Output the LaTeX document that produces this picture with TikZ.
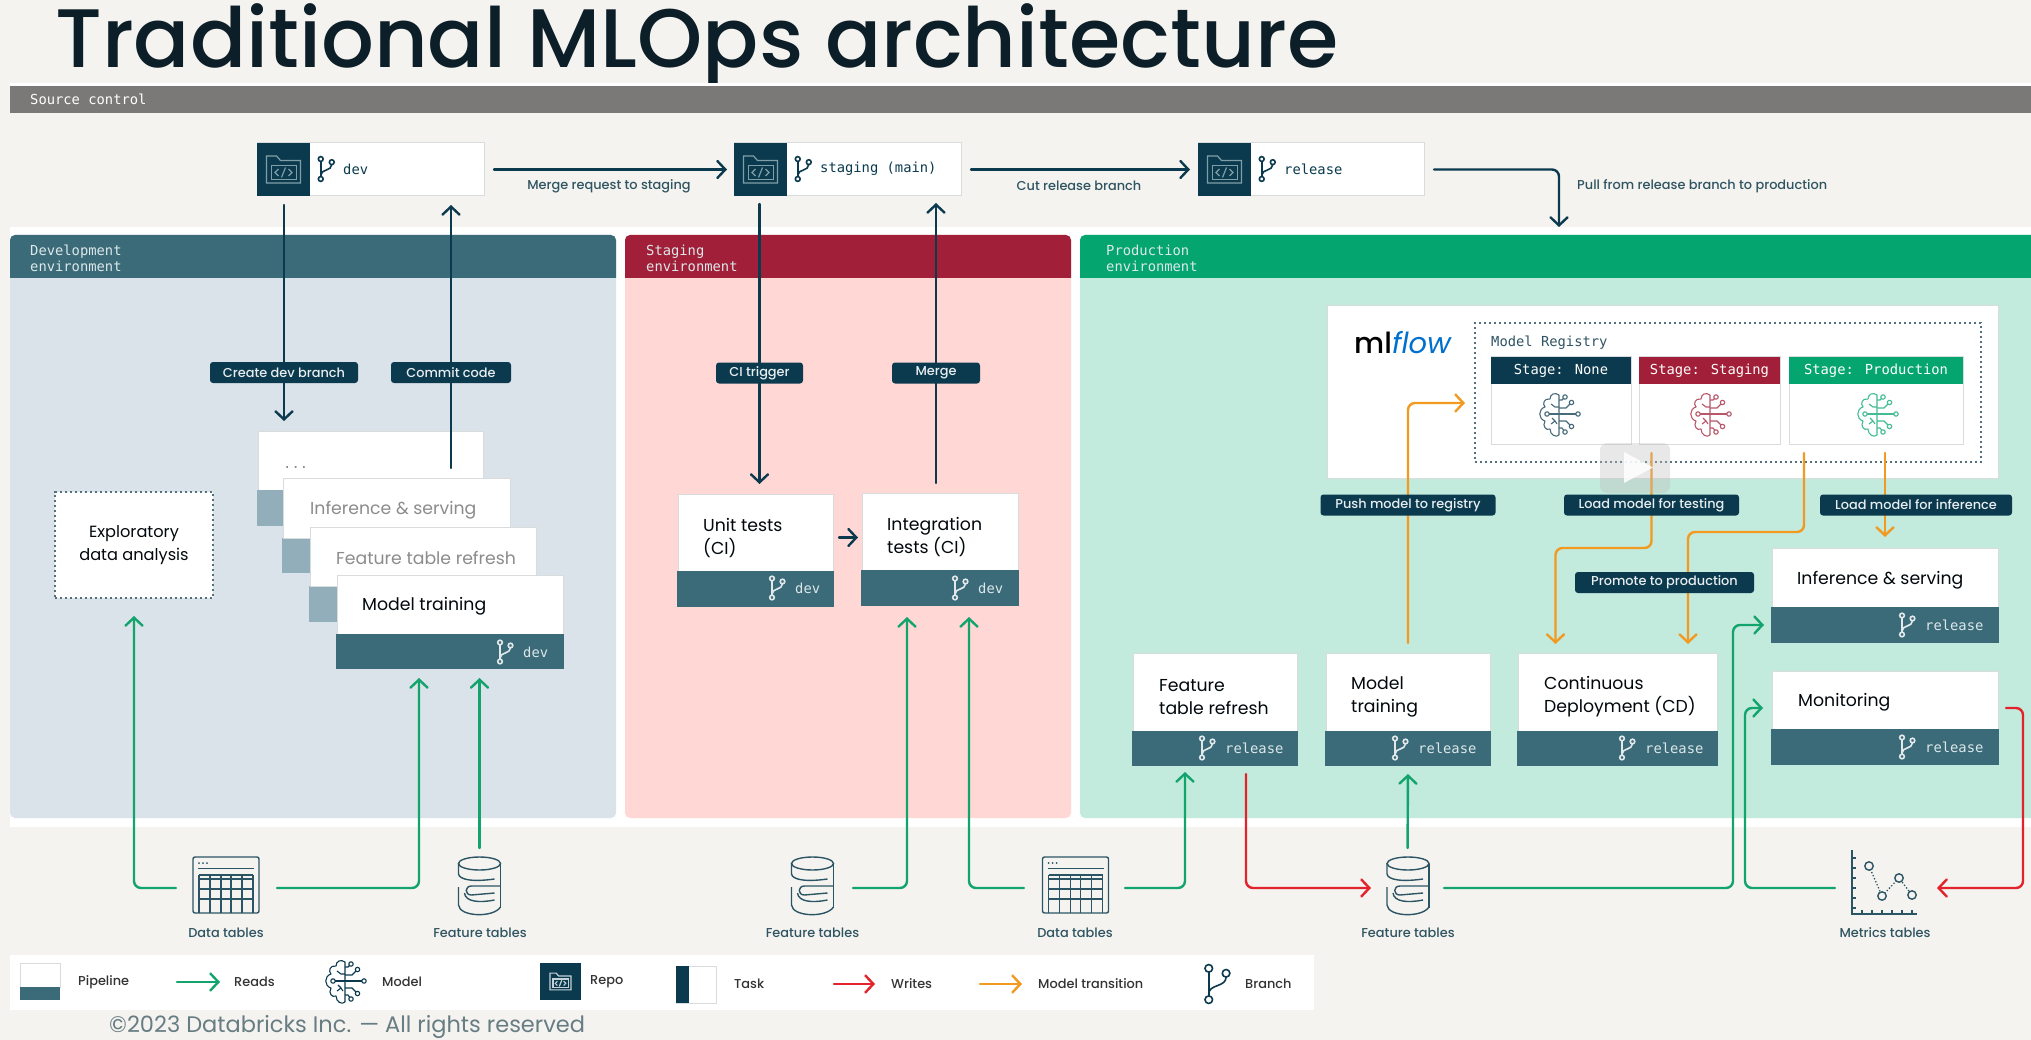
\documentclass[tikz,border=0pt]{standalone}
\usepackage{fontspec}
\setmainfont{Poppins}
\newfontfamily\medf{Poppins Medium}
\newfontfamily\monof{DejaVu Sans Mono}
\usetikzlibrary{arrows.meta,fit,calc}
\pgfdeclarelayer{top}
\pgfsetlayers{main,top}
\definecolor{paper}{HTML}{F5F3EF}
\definecolor{navy}{HTML}{0B3A4E}
\definecolor{teal}{HTML}{3B6A78}
\definecolor{fade}{HTML}{92AEBA}
\definecolor{grn}{HTML}{12A46C}
\definecolor{redd}{HTML}{E4222C}
\definecolor{orng}{HTML}{F29A1F}
\definecolor{edge}{HTML}{D9DCDC}
\definecolor{soft}{HTML}{DCE8EA}
\definecolor{inkb}{HTML}{2F5462}
\definecolor{stgcol}{HTML}{A11F38}
\definecolor{devbody}{HTML}{DAE2EA}
\definecolor{stgbody}{HTML}{FFD8D5}
\definecolor{prdhead}{HTML}{04A56F}
\definecolor{prdbody}{HTML}{C2EADD}
\definecolor{titleink}{HTML}{0C1E27}
\definecolor{regdot}{HTML}{54707C}
\definecolor{iconink}{HTML}{2B5564}
\tikzset{
  fitbox/.style={inner sep=0pt,outer sep=0pt,line width=1pt},
  whitebox/.style={fitbox,fill=white,draw=edge},
  spot/.style={inner sep=0pt,outer sep=0pt},
  monotxt/.style={font=\monof\fontsize{13.8}{16}\selectfont,inner sep=0pt,anchor=west,align=left},
  pipetxt/.style={font=\fontsize{17.3}{23}\selectfont,inner sep=0pt,anchor=west,align=left,text=black!85!navy},
  small/.style={font=\medf\fontsize{12.9}{15}\selectfont,inner sep=0pt},
  tag/.style={small,fill=navy,rounded corners=3pt,text=white!88!teal,minimum height=21pt},
  arrtip/.style={-{Straight Barb[length=8pt,width=17pt,line cap=round]},line width=2.4pt,line cap=round,rounded corners=7pt},
  navyarr/.style={arrtip,draw=navy},
  greenarr/.style={arrtip,draw=grn},
  redarr/.style={arrtip,draw=redd},
  orgarr/.style={arrtip,draw=orng},
  dotbox/.style={fitbox,draw=regdot,line width=2.4pt,dash pattern=on 2.4pt off 2.6pt},
  pics/branch/.style={code={
    \draw[line width=1.6pt] (-5,-9.5) circle (2.3) (5.5,-6.5) circle (2.3) (-5,9.5) circle (2.3);
    \draw[line width=1.6pt] (-5,-7.2) -- (-5,7.2);
    \draw[line width=1.6pt] (5.5,-4.2) .. controls (5.5,2) and (-5,0) .. (-5,6);
  }},
  pics/folder/.style={code={
    \draw[line width=1.2pt] (-17,13.5) -- (-17,-13.5) -- (-7,-13.5) -- (-3,-9) -- (17,-9) -- (17,13.5) -- cycle;
    \draw[line width=1.2pt] (-12,-4) rectangle (13,10);
    \draw[line width=1.2pt] (-5,-0.5) -- (-8.5,3) -- (-5,6.5) (5,-0.5) -- (8.5,3) -- (5,6.5) (2,-2) -- (-2,8);
  }},
  pics/brain/.style={code={
    \draw[line width=1.1pt,line join=round]
      (0,-20) .. controls (-4,-23) and (-9,-21) .. (-9,-16)
      .. controls (-15,-17) and (-17,-11) .. (-14,-8)
      .. controls (-21,-6) and (-21,4) .. (-14,6)
      .. controls (-17,11) and (-13,16) .. (-9,14)
      .. controls (-9,20) and (-3,23) .. (0,20) -- cycle;
    \draw[line width=1.1pt] (-12,-1) circle (2.2);
    \draw[line width=1.1pt] (-9.8,-1) -- (17,-1);
    \draw[line width=1.1pt] (19,-1) circle (2.2);
    \draw[line width=1.1pt] (0,-7) -- (7,-7) -- (11,-11);
    \draw[line width=1.1pt] (12.5,-12.5) circle (2.2);
    \draw[line width=1.1pt] (0,-15) -- (3,-15) -- (4.5,-16.5);
    \draw[line width=1.1pt] (6,-18) circle (2.2);
    \draw[line width=1.1pt] (0,6) -- (7,6) -- (11,10);
    \draw[line width=1.1pt] (12.5,11.5) circle (2.2);
    \draw[line width=1.1pt] (0,13) -- (3,13) -- (4.5,15);
    \draw[line width=1.1pt] (6,17) circle (2.2);
    \draw[line width=1.1pt] (-8,-11) -- (-4,-8) -- (0,-8);
    \draw[line width=1.1pt] (-8,9) -- (-4,6) (-7,3) -- (-4,6) -- (-2,9);
  }},
  pics/datatable/.style={code={
    \draw[line width=1.4pt,rounded corners=2pt] (-33,-28) rectangle (33,28);
    \fill (-27,-22) circle (1) (-23,-22) circle (1) (-19,-22) circle (1);
    \draw[line width=1.4pt] (-28,-16.5) -- (28,-16.5);
    \draw[line width=1.4pt] (-27,-10) -- (27,-10) (-27,-6) -- (27,-6) (-27,4) -- (27,4) (-27,14) -- (27,14);
    \draw[line width=1.4pt] (-27,-10) -- (-27,28) (-16,-10) -- (-16,28) (-5,-10) -- (-5,28) (5,-10) -- (5,28) (16,-10) -- (16,28) (27,-10) -- (27,28);
  }},
  pics/cylinder/.style={code={
    \draw[line width=1.4pt] (0,-23.5) ellipse (21 and 6.5);
    \draw[line width=1.4pt] (-21,-23.5) -- (-21,-13) .. controls (-20,-7) and (-6,-5) .. (15,-8);
    \draw[line width=1.4pt] (21,-23.5) -- (21,21);
    \draw[line width=1.4pt] (21,-1) -- (-8,-1) .. controls (-15,-1) and (-15,8) .. (-8,8) -- (15,6);
    \draw[line width=1.4pt] (-21,0) -- (-21,18) .. controls (-20,30) and (14,31) .. (21,20);
    \draw[line width=1.4pt] (-15,6) .. controls (-14,15) and (0,16) .. (15,13);
  }},
}
\newcommand{\repobox}[6]{% name, x1, x2, darkend, text x, text
  \node[whitebox,fit={(#2,143)(#3,196)}] (#1) {};
  \node[fitbox,fill=navy,fit={(#2,143)(#4,196)}] (#1d) {};
  \pic[color=white!35!teal] at (#4-26.5,169.5) {folder};
  \pic[color=navy,scale=1.05] at (#5-17,169) {branch};
  \node[monotxt,text=navy] (#1t) at (#5,169) {#6};
}
\newcommand{\pipeline}[6]{% name x1 y1 x2 ysplit y2
  \node[whitebox,fit={(#2,#3)(#4,#5)}] (#1) {};
  \node[fitbox,fill=teal,fit={(#2-1,#5)(#4+1,#6)}] (#1bar) {};
}
\newcommand{\barlabel}[4]{% name branch-x y text
  \pic[color=white!85!teal] at (#2,#3) {branch};
  \node[monotxt,text=soft] (#1) at (#2+18,#3) {#4};
}
\newcommand{\envpanel}[8]{% name x1 x2 head body l1 l2 textx
  \node[fitbox,fill=#5,rounded corners=5pt,fit={(#2,235)(#3,818)}] (#1) {};
  \fill[#4] (#2,278) [rounded corners=5pt] -- (#2,235) -- (#3,235) [sharp corners] -- (#3,278) -- cycle;
  \node[monotxt,text=soft] (#1h) at (#8,258) {#6\\#7};
}
\begin{document}
\begin{tikzpicture}[x=1pt,y=-1pt]
\useasboundingbox (0,0) rectangle (2031,1040);
\fill[paper] (0,0) rectangle (2031,1040);
% title
\node[anchor=base west,inner sep=0pt,text=titleink,font=\medf\fontsize{83}{88}\selectfont] (title) at (55,68) {Traditional MLOps architecture};
% source bar
\fill[white] (10,83) rectangle (2031,86);
\node[fitbox,fill=black!50!paper,fit={(10,86)(2031,113)}] (srcbar) {};
\node[monotxt,text=white!90!paper] (srctxt) at (30,99.5) {Source control};
% white backing
\fill[white] (10,227) rectangle (2031,827);
% environments
\envpanel{devenv}{10}{616}{teal}{devbody}{Development}{environment}{30}
\envpanel{stgenv}{625}{1071}{stgcol}{stgbody}{Staging}{environment}{646}
\envpanel{prodenv}{1080}{2040}{prdhead}{prdbody}{Production}{environment}{1106}
% repos
\repobox{devrepo}{257}{484}{310}{343}{dev}
\repobox{stgrepo}{734}{961}{787}{820}{staging (main)}
\repobox{relrepo}{1198}{1424}{1251}{1284}{release}
% dev stack
\pipeline{stA}{258}{431}{483}{490}{526}
\fill[fade] (257,490) rectangle (484,526);
\node[monotxt,text=black!45] (stAt) at (283,467) {...};
\pipeline{stB}{283}{478}{510}{538}{573}
\fill[fade] (282,538) rectangle (511,573);
\node[whitebox,fit={(283,478)(510,538)}] (stBw) {};
\node[pipetxt,text=black!45] (stBt) at (310,510) {Inference \& serving};
\pipeline{stC}{310}{527}{536}{586}{622}
\fill[fade] (309,586) rectangle (537,622);
\node[whitebox,fit={(310,527)(536,586)}] (stCw) {};
\node[pipetxt,text=black!45] (stCt) at (336,558) {Feature table refresh};
\pipeline{mtd}{337}{575}{563}{634}{669}
\node[pipetxt] (mtdt) at (362,606) {Model training};
\barlabel{mtdb}{505}{652}{dev}
\node[fitbox,fill=white,fit={(55,492)(213,598)},dotbox] (expl) {};
\node[pipetxt,align=center,anchor=center,font=\fontsize{16.2}{23}\selectfont] (explt) at (134,545.5) {Exploratory\\data analysis};
% staging pipelines
\pipeline{unit}{678}{494}{833}{571}{607}
\node[pipetxt] (unitt) at (703,538) {Unit tests\\(CI)};
\barlabel{unitb}{777}{588}{dev}
\pipeline{intg}{862}{493}{1018}{570}{606}
\node[pipetxt] (intgt) at (887,537.5) {Integration\\tests (CI)};
\barlabel{intgb}{960}{588}{dev}
% production pipelines
\pipeline{frf}{1133}{653}{1297}{731}{766}
\node[pipetxt] (frft) at (1159,697) {Feature\\table refresh};
\barlabel{frfb}{1207}{748}{release}
\pipeline{mtp}{1326}{653}{1490}{731}{766}
\node[pipetxt] (mtpt) at (1351,697) {Model\\training};
\barlabel{mtpb}{1400}{748}{release}
\pipeline{cdp}{1518}{653}{1717}{731}{766}
\node[pipetxt] (cdpt) at (1544,697) {Continuous\\Deployment (CD)};
\barlabel{cdpb}{1627}{748}{release}
\pipeline{inf}{1772}{548}{1998}{607}{643}
\node[pipetxt] (inft) at (1797,580) {Inference \& serving};
\barlabel{infb}{1907}{625}{release}
\pipeline{mon}{1772}{671}{1998}{729}{765}
\node[pipetxt] (mont) at (1798,702) {Monitoring};
\barlabel{monb}{1907}{747}{release}
% mlflow
\node[whitebox,fit={(1327,306)(1998,478)}] (mlbox) {};
\node[inner sep=0pt,anchor=west,font=\fontsize{29}{30}\selectfont] (mllogo) at (1354,343) {\textcolor{black}{\medf ml}\textcolor{blue!45!cyan!80!black}{\textit{flow}}};
\node[fitbox,dotbox,fit={(1475,323)(1981,462)}] (reg) {};
\node[monotxt,text=inkb] (regt) at (1491,343) {Model Registry};
\foreach \nm/\xa/\xb/\col/\txt/\cx in {snone/1491/1631/navy/{Stage: None}/1559, sstg/1639/1780/stgcol/{Stage: Staging}/1710, sprod/1789/1963/prdhead/{Stage: Production}/1877}{
  \node[whitebox,fit={(\xa,357)(\xb,444)}] (\nm) {};
  \node[fitbox,fill=\col,fit={(\xa,357)(\xb,384)}] (\nm h) {};
  \node[monotxt,anchor=center,text=white!90!paper] (\nm t) at ($(\xa,370.5)!.5!(\xb,370.5)$) {\txt};
  \pic[color=\col!75!white] at (\cx,415) {brain};
}
% icons at the bottom
\node[spot,fit={(193,860)(259,916)}] (dt1) {};
\pic[color=iconink] at (226,885) {datatable};
\node[small,text=inkb] (dt1l) at (226,933) {Data tables};
\node[spot,fit={(458,857)(501,919)}] (ft1) {};
\pic[color=iconink] at (479.5,887) {cylinder};
\node[small,text=inkb] (ft1l) at (480,933) {Feature tables};
\node[spot,fit={(791,857)(834,919)}] (ft2) {};
\pic[color=iconink] at (812.5,887) {cylinder};
\node[small,text=inkb] (ft2l) at (812.5,933) {Feature tables};
\node[spot,fit={(1043,860)(1108,916)}] (dt2) {};
\pic[color=iconink] at (1075.5,885) {datatable};
\node[small,text=inkb] (dt2l) at (1075,933) {Data tables};
\node[spot,fit={(1386,857)(1429,919)}] (ft3) {};
\pic[color=iconink] at (1408,887) {cylinder};
\node[small,text=inkb] (ft3l) at (1408,933) {Feature tables};
\node[spot,fit={(1852,857)(1917,919)}] (met) {};
\node[small,text=inkb] (metl) at (1885,933) {Metrics tables};
\draw[line width=1.5pt,draw=iconink] (1852,850) -- (1852,914) -- (1917,914);
\foreach \yy in {858,868,878,888,898,908}{\draw[line width=1.2pt,draw=iconink] (1852,\yy) -- (1856,\yy);}
\foreach \xx in {1862,1872,1882,1892,1902,1912}{\draw[line width=1.2pt,draw=iconink] (\xx,914) -- (\xx,910);}
\draw[line width=1.3pt,draw=iconink,dotted] (1869,866) -- (1882,896) -- (1899,878) -- (1912,895);
\foreach \cx/\cy in {1869/866,1882/896,1899/878,1912/895}{\draw[line width=1.4pt,draw=iconink,fill=paper] (\cx,\cy) circle (4.2);}
% tags (on the top layer, above the connectors)
\begin{pgfonlayer}{top}
\node[tag,minimum width=148pt] (cdb) at (284,372.5) {Create dev branch};
\node[tag,minimum width=120pt] (ccm) at (451,372.5) {Commit code};
\node[tag,minimum width=87pt] (citr) at (759.5,373) {CI trigger};
\node[tag,minimum width=88pt] (mrg) at (936,373) {Merge};
\node[tag,minimum width=175pt] (pushl) at (1408,505) {Push model to registry};
\node[tag,minimum width=175pt] (loadt) at (1651.5,505) {Load model for testing};
\node[tag,minimum width=179pt] (promo) at (1664.5,582.5) {Promote to production};
\node[tag,minimum width=192pt] (loadi) at (1916,505) {Load model for inference};
% play button overlay
\node[spot,fill=black!25,opacity=.35,rounded corners=7pt,fit={(1600,443)(1670,493)}] (play) {};
\fill[white,opacity=.85] (1624,452) -- (1653,467.5) -- (1624,483) -- cycle;
\end{pgfonlayer}
% source control connector labels
\node[small,text=inkb] (ml1) at (609,186) {Merge request to staging};
\node[small,text=inkb] (ml2) at (1079,186) {Cut release branch};
\node[small,text=inkb,anchor=west] (ml3) at (1577,186) {Pull from release branch to production};
% free ends
\coordinate (cmtFrom) at (451,468);
\coordinate (prodIn) at (1559,236);
\coordinate (mtIn1) at (419,669);
\coordinate (mtIn2) at (479.5,669);
\coordinate (igIn1) at (907,606);
\coordinate (igIn2) at (969,606);
\coordinate (frIn) at (1185,766);
\coordinate (frOut) at (1246,766);
\coordinate (mtpIn) at (1408,766);
\coordinate (infTurn) at (1733,888);
\coordinate (monTurn) at (1745,888);
\coordinate (monIn) at (1772,708);
\coordinate (monOut) at (1998,708);
\coordinate (redTurn) at (2023,888);
\coordinate (ltOut) at (1651.5,444);
\coordinate (ltA) at (1651.5,548);
\coordinate (ltB) at (1555.5,548);
\coordinate (cdIn1) at (1555.5,653);
\coordinate (prOut) at (1804,444);
\coordinate (prA) at (1804,532);
\coordinate (prB) at (1688,532);
\coordinate (cdIn2) at (1688,653);
\coordinate (liOut) at (1885,444);
\coordinate (regIn) at (1475,403);
% navy connectors
\draw[navyarr,shorten <=10pt,shorten >=7pt] (devrepo.east) -- (stgrepo.west);
\draw[navyarr,shorten <=10pt,shorten >=8pt] (stgrepo.east) -- (relrepo.west);
\draw[navyarr,shorten <=10pt,shorten >=9pt] (relrepo.east) -| (prodIn);
\draw[navyarr,shorten <=9pt,shorten >=10pt] (devrepo.south -| cdb) -- (stA.north -| cdb);
\draw[navyarr,shorten >=9pt] (cmtFrom) -- (devrepo.south -| cmtFrom);
\draw[navyarr,shorten <=8pt,shorten >=10pt] (stgrepo.south -| citr) -- (unit.north -| citr);
\draw[navyarr,shorten <=10pt,shorten >=7pt] (intg.north -| mrg) -- (stgrepo.south -| mrg);
\draw[navyarr,shorten <=6pt,shorten >=4pt] (unit.east |- intgt) -- (intg.west |- intgt);
% reads
\draw[greenarr,shorten <=17pt,shorten >=18pt] (dt1.west) -| (expl.south);
\draw[greenarr,shorten <=18pt,shorten >=9pt] (dt1.east) -| (mtIn1);
\draw[greenarr,shorten <=9pt,shorten >=9pt] (ft1.north) -- (mtIn2);
\draw[greenarr,shorten <=19pt,shorten >=11pt] (ft2.east) -| (igIn1);
\draw[greenarr,shorten <=19pt,shorten >=11pt] (dt2.west) -| (igIn2);
\draw[greenarr,shorten <=17pt,shorten >=6pt] (dt2.east) -| (frIn);
\draw[greenarr,shorten <=9pt,shorten >=8pt] (ft3.north) -- (mtpIn);
\draw[greenarr,shorten <=15pt,shorten >=7pt] (ft3.east) -- (infTurn) |- (infbar.west);
\draw[greenarr,shorten <=17pt,shorten >=9pt] (met.west) -- (monTurn) |- (monIn);
% writes
\draw[redarr,shorten <=8pt,shorten >=15pt] (frOut) |- (ft3.west);
\draw[redarr,shorten <=8pt,shorten >=20pt] (monOut) -- (monOut -| redTurn) -- (redTurn) -- (met.east);
% model transitions
\draw[orgarr,shorten <=10pt,shorten >=10pt] (mtp.north) |- (regIn);
\draw[orgarr,shorten <=9pt,shorten >=9pt] (ltOut) -- (ltA) -- (ltB) -- (cdIn1);
\draw[orgarr,shorten <=9pt,shorten >=9pt] (prOut) -- (prA) -- (prB) -- (cdIn2);
\draw[orgarr,shorten <=9pt,shorten >=11pt] (liOut) -- (inf.north);
% legend
\node[fitbox,fill=white,fit={(10,955)(1314,1010)}] (legend) {};
\node[whitebox,fit={(20,963)(60,987)}] (lgp) {};
\node[fitbox,fill=teal,fit={(20,987)(60,1000)}] (lgpb) {};
\node[small,anchor=west,text=black!80] (lgpt) at (78,982) {Pipeline};
\coordinate (lgr1) at (177,982); \coordinate (lgr2) at (220,982);
\draw[greenarr] (lgr1) -- (lgr2);
\node[small,anchor=west,text=black!80] (lgrt) at (234,982) {Reads};
\pic[color=navy] at (345,982) {brain};
\node[small,anchor=west,text=black!80] (lgmt) at (382,982) {Model};
\node[fitbox,fill=navy,fit={(540,963)(581,1000)}] (lgre) {};
\pic[color=white!70!teal,scale=.62] at (560.5,981.5) {folder};
\node[small,anchor=west,text=black!80] (lgret) at (590,982) {Repo};
\node[whitebox,fit={(676,966)(716,1003)}] (lgta) {};
\node[fitbox,fill=navy,fit={(676,966)(689,1003)}] (lgtad) {};
\node[small,anchor=west,text=black!80] (lgtat) at (734,984) {Task};
\coordinate (lgw1) at (834,984); \coordinate (lgw2) at (875,984);
\draw[redarr] (lgw1) -- (lgw2);
\node[small,anchor=west,text=black!80] (lgwt) at (891,984) {Writes};
\coordinate (lgo1) at (980,984); \coordinate (lgo2) at (1022,984);
\draw[orgarr] (lgo1) -- (lgo2);
\node[small,anchor=west,text=black!80] (lgot) at (1038,984) {Model transition};
\pic[color=navy,scale=1.65] at (1217,984) {branch};
\node[small,anchor=west,text=black!80] (lgbt) at (1245,984) {Branch};
\node[inner sep=0pt,anchor=west,text=black!35!teal!70!white,font=\fontsize{22.5}{26}\selectfont] (copy) at (109,1027) {©2023 Databricks Inc. — All rights reserved};
\end{tikzpicture}
\end{document}
